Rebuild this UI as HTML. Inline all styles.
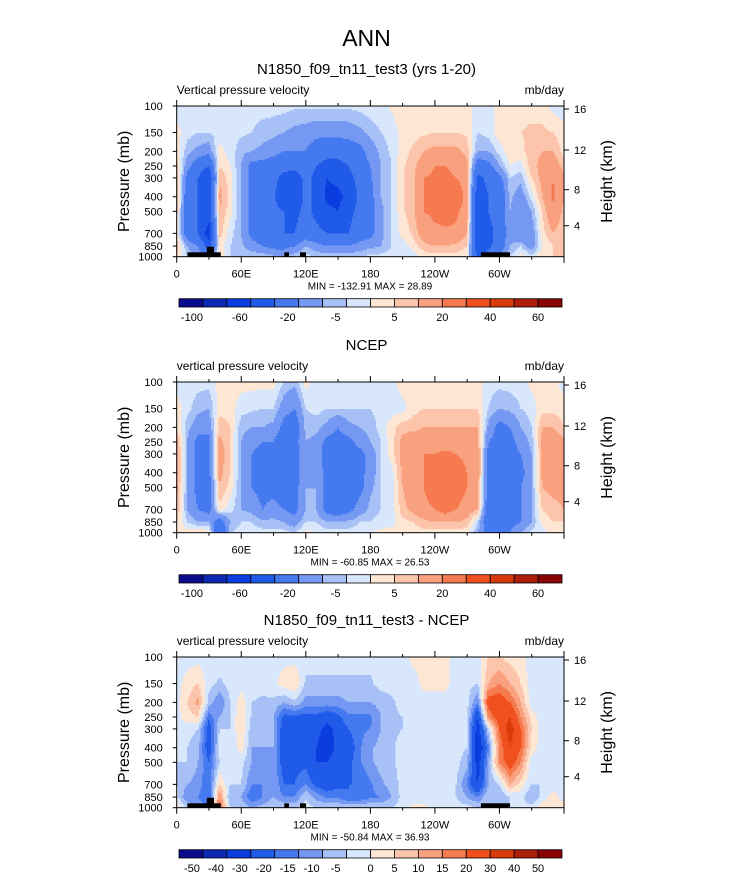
<!DOCTYPE html>
<html><head><meta charset="utf-8">
<style>
body{margin:0;background:#fff;}
svg text{font-family:"Liberation Sans",Helvetica,Arial,sans-serif;fill:#000;}
</style></head>
<body>
<svg id="chart" width="733" height="873" viewBox="0 0 733 873" xmlns="http://www.w3.org/2000/svg">
<text x="366.5" y="46" font-size="23" text-anchor="middle">ANN</text>
</svg>
<script>
// ---------- data ----------
const lons = [0,10,20,30,40,50,60,70,80,90,100,110,120,130,140,150,160,170,180,190,200,210,220,230,240,250,260,270,280,290,300,310,320,330,340,350];
const levels = [100,150,200,250,300,400,500,700,850,1000];
const lonTickLabels = ["0","60E","120E","180","120W","60W"];
const lonTickValues = [0,60,120,180,240,300];
const presTickValues = [100,150,200,250,300,400,500,700,850,1000];
const heightTickLabels = ["16","12","8","4"];
const contourLevelsAB = [-100,-80,-60,-40,-20,-10,-5,0,5,10,20,30,40,50,60];
const contourLabelsAB = ["-100","","-60","","-20","","-5","","5","","20","","40","","60"];
const contourLevelsC = [-50,-40,-30,-20,-15,-10,-5,0,5,10,15,20,30,40,50];
const contourLabelsC = ["-50","-40","-30","-20","-15","-10","-5","0","5","10","15","20","30","40","50"];
const palette = ['#0b0b8e','#0a28b0','#0a3ce0','#1f5ae8','#4479f0','#7598f2','#a7c0f6','#d8e7fb','#fee6d4','#fcc4aa','#f9a07e','#f67a50','#f0501e','#d93a0a','#ac1d0a','#880404'];

// panel 1: model (rows = lon, cols = pressure levels 100..1000)
const fieldModel = [
[-3,2,3,8,12,10,8,5,8,5],
[-3,-3,-8,-15,-25,-30,-30,-30,-10,-5],
[-2,-5,-12,-30,-40,-40,-40,-40,-20,-10],
[0,-5,-15,-40,-60,-50,-50,-70,-50,-30],
[-2,-3,2,5,10,12,10,8,3,5],
[-2,-3,-2,0,2,3,2,-3,-5,-5],
[-2,-4,-8,-10,-10,-10,-10,-10,-8,-5],
[-3,-5,-10,-25,-25,-25,-25,-25,-15,-5],
[-3,-7,-12,-25,-30,-30,-30,-30,-20,-5],
[-3,-8,-15,-30,-35,-35,-35,-35,-25,-8],
[-3,-10,-20,-35,-45,-60,-40,-40,-25,-10],
[-4,-12,-20,-35,-50,-55,-45,-40,-20,-5],
[-4,-13,-20,-30,-35,-35,-35,-30,-10,-3],
[-4,-15,-30,-40,-45,-45,-45,-35,-15,-5],
[-4,-15,-35,-45,-60,-65,-55,-40,-20,-5],
[-4,-15,-35,-45,-55,-65,-60,-40,-20,-5],
[-4,-14,-30,-40,-45,-55,-45,-40,-20,-5],
[-3,-12,-25,-30,-35,-35,-35,-30,-15,-5],
[-2,-8,-15,-20,-22,-25,-25,-25,-12,-3],
[-2,-5,-8,-10,-10,-10,-12,-12,-10,-3],
[1,-3,-4,-5,-5,-5,-5,-5,-5,-3],
[3,2,3,4,4,4,4,2,-3,-3],
[3,3,6,8,8,8,8,6,2,-3],
[3,4,10,15,20,20,20,15,8,2],
[3,5,12,20,22,23,22,18,10,3],
[3,5,12,20,22,25,25,18,10,3],
[3,5,12,18,20,30,22,18,8,3],
[3,4,8,12,15,15,15,10,5,2],
[-3,-5,-10,-30,-45,-55,-55,-55,-55,-45],
[-3,-3,-10,-25,-35,-40,-40,-45,-45,-30],
[3,3,-3,-10,-25,-35,-30,-35,-30,-20],
[3,5,3,0,-5,-8,-10,-12,-10,-5],
[3,5,3,-2,-8,-15,-20,-20,-5,3],
[3,6,8,8,5,-3,-10,-15,-15,-3],
[3,6,10,12,12,10,5,3,0,5],
[-2,5,10,15,20,22,18,10,5,5]
];
// panel 2: NCEP
const fieldObs = [
[-3,3,5,12,15,15,12,10,5,3],
[-3,-3,-8,-10,-10,-10,-10,-10,-5,3],
[-3,-8,-15,-25,-25,-25,-25,-20,-10,5],
[-3,-10,-15,-25,-25,-25,-25,-25,-10,3],
[2,3,8,12,15,12,10,3,-30,-40],
[2,3,5,5,5,5,3,-3,-10,-5],
[2,-3,-8,-10,-10,-10,-10,-10,-5,-3],
[2,-4,-10,-15,-20,-20,-20,-12,-5,-3],
[2,-5,-10,-20,-25,-25,-25,-20,-8,-3],
[2,-5,-12,-20,-25,-25,-25,-15,-8,-3],
[-5,-15,-25,-30,-40,-35,-30,-20,-10,-3],
[-8,-20,-30,-25,-30,-30,-25,-25,-15,-5],
[2,-5,-8,-10,-10,-10,-10,-10,-5,2],
[-2,-3,-8,-12,-15,-12,-10,-10,-5,0],
[-3,-5,-12,-25,-25,-25,-25,-25,-10,-3],
[-3,-5,-20,-25,-30,-30,-30,-30,-10,-3],
[-3,-5,-12,-25,-30,-30,-30,-25,-8,-3],
[-3,-5,-10,-15,-25,-25,-25,-15,-5,-3],
[-3,-5,-8,-10,-15,-15,-12,-8,-5,0],
[-3,-3,-3,-5,-5,-5,-5,-5,-3,2],
[-2,-3,3,3,3,-3,-3,-3,-2,2],
[3,-2,8,12,12,12,10,8,3,2],
[3,3,8,15,18,18,15,12,5,3],
[3,5,10,15,20,20,20,18,8,3],
[3,5,10,15,20,20,25,20,10,3],
[3,5,10,15,22,28,30,25,10,3],
[3,5,10,15,20,25,28,20,10,3],
[3,5,10,15,18,20,20,15,8,2],
[3,5,10,12,15,15,12,10,-5,-10],
[-3,-5,-12,-20,-25,-25,-25,-30,-35,-25],
[-3,-10,-25,-25,-25,-25,-25,-40,-30,-20],
[-3,-8,-20,-25,-25,-25,-25,-25,-25,-20],
[-3,-5,-10,-15,-20,-25,-20,-20,-20,-10],
[2,-3,-5,-8,-10,-10,-10,-10,-10,-3],
[3,3,10,12,12,12,10,5,2,-3],
[3,3,10,15,15,15,12,8,5,3]
];
// panel 3: difference
const fieldDiff = [
[-2,-2,-2,-2,-3,-3,-5,-5,-3,3],
[-2,2,5,3,-3,-5,-5,-10,-15,-5],
[-2,5,12,5,-5,-8,-10,-12,-15,-10],
[-2,-3,-7,-18,-25,-25,-20,-20,-20,-20],
[-2,-6,-15,-10,-5,-3,-5,5,15,20],
[-2,-3,-5,-5,-5,-5,-3,-5,-10,-5],
[-2,-2,3,5,5,3,-3,-5,-10,-5],
[-2,-3,-5,-6,-8,-10,-10,-15,-20,-10],
[-2,-3,-6,-10,-10,-10,-12,-15,-15,-8],
[-2,-2,-6,-10,-10,-10,-10,-10,-10,-5],
[-2,3,-10,-22,-25,-25,-25,-20,-15,-5],
[-2,5,-6,-22,-25,-25,-22,-20,-15,-5],
[-3,-6,-12,-22,-25,-25,-22,-15,-5,-3],
[-3,-6,-12,-22,-25,-30,-30,-22,-12,-5],
[-3,-6,-12,-25,-35,-40,-30,-25,-16,-5],
[-3,-6,-12,-22,-25,-25,-22,-22,-16,-5],
[-3,-6,-10,-16,-20,-25,-22,-20,-20,-5],
[-3,-6,-10,-16,-16,-16,-16,-20,-20,-5],
[-3,-6,-10,-16,-15,-11,-11,-16,-16,-5],
[-3,-3,-8,-10,-10,-8,-8,-11,-15,-5],
[-3,-3,-6,-6,-6,-6,-6,-8,-10,-5],
[-3,-3,-3,-5,-5,-3,-3,-3,-3,-3],
[2,-3,-3,-3,-3,-3,-3,-3,-3,2],
[2,2,-3,-3,-3,-3,-3,-5,-3,2],
[2,2,-3,-3,-3,-3,-3,-5,-3,-3],
[2,2,-3,-3,-3,-3,-3,-5,-3,-3],
[-3,-3,-3,-3,-3,-3,-3,-5,-5,-3],
[-3,-3,-3,-3,-5,-5,-8,-15,-10,-3],
[-3,-5,-15,-30,-35,-40,-35,-30,-15,-5],
[5,10,25,15,-5,-15,-10,-10,-5,-5],
[5,15,25,25,20,15,15,-5,-10,-5],
[3,10,20,30,35,30,25,10,-5,-5],
[2,5,10,15,20,20,15,3,-3,-3],
[-3,-3,-3,3,5,3,-3,-5,-10,-3],
[-3,-3,-3,-3,-3,-3,-3,-5,-3,3],
[-3,-3,-3,-3,-3,-3,-3,-3,3,5]
];
// topography blocks: [lonStart, lonEnd, topPressure]
const topoStart = [10, 28, 100, 114.6, 282.8];
const topoEnd   = [41, 34.7, 104.4, 120.2, 309.8];
const topoTop   = [935, 859, 935, 935, 935];

const panels = [
 {name:'model', title:'N1850_f09_tn11_test3 (yrs 1-20)', left:'Vertical pressure velocity', field:fieldModel, lv:contourLevelsAB, lab:contourLabelsAB, minmax:'MIN = -132.91  MAX =  28.89', top:106, topo:true},
 {name:'ncep', title:'NCEP', left:'vertical pressure velocity', field:fieldObs, lv:contourLevelsAB, lab:contourLabelsAB, minmax:'MIN = -60.85  MAX =  26.53', top:382, topo:false},
 {name:'diff', title:'N1850_f09_tn11_test3 - NCEP', left:'vertical pressure velocity', field:fieldDiff, lv:contourLevelsC, lab:contourLabelsC, minmax:'MIN = -50.84  MAX =  36.93', top:657, topo:true}
];

// ---------- drawing ----------
const NS='http://www.w3.org/2000/svg';
const svg=document.getElementById('chart');
function mk(tag,attrs,parent,txt){const e=document.createElementNS(NS,tag);for(const k in attrs)e.setAttribute(k,attrs[k]);if(txt!==undefined)e.textContent=txt;(parent||svg).appendChild(e);return e;}
const X0=176.7, W=387.3, H=150.7;
function xScale(lon){return X0+lon/360*W;}
function yScale(p,top){return top+Math.log10(p/100)*H;}
function pFromY(y,top){return 100*Math.pow(10,(y-top)/H);}
function sample(field,lon,p){
  let fi=lon/10; let i0=Math.floor(fi); let t=fi-i0; i0=((i0%36)+36)%36; const i1=(i0+1)%36;
  const lp=Math.log10(p); const ll=levels.map(v=>Math.log10(v));
  let j=0; while(j<levels.length-2 && lp>ll[j+1]) j++;
  let s=(lp-ll[j])/(ll[j+1]-ll[j]); s=Math.max(0,Math.min(1,s));
  const a=field[i0][j]*(1-s)+field[i0][j+1]*s, b=field[i1][j]*(1-s)+field[i1][j+1]*s;
  return a*(1-t)+b*t;
}
function band(v,lv){let k=0;while(k<lv.length&&v>=lv[k])k++;return k;}

panels.forEach((P,pi)=>{
  const top=P.top, bot=top+H;
  const g=mk('g',{},svg);
  
  
  const tt=mk('text',{x:366.5,y:top-32,'font-size':15,'text-anchor':'middle'},g,P.title);
  
  
  const lt=mk('text',{x:X0,y:top-12,'font-size':12},g,P.left);
  
  
  const ut=mk('text',{x:X0+W,y:top-12,'font-size':12,'text-anchor':'end'},g,'mb/day');
  
  
  const cg=mk('g',{'shape-rendering':'crispEdges'},g);
  
  
  const dx=1.5, dy=1.5;
  const nx=Math.ceil(W/dx), ny=Math.ceil(H/dy);
  for(let r=0;r<ny;r++){
    const y0=top+r*dy, hh=Math.min(dy,bot-y0);
    const p=pFromY(y0+hh/2,top);
    let start=0, cur=-1;
    for(let c=0;c<=nx;c++){
      let b=-2;
      if(c<nx){const lon=((c+0.5)*dx)/W*360; b=band(sample(P.field,lon,p),P.lv);}
      if(b!==cur){
        if(cur>=0){const xs=X0+start*dx, xe=Math.min(X0+c*dx,X0+W);
          const rc=mk('rect',{x:xs.toFixed(1),y:y0.toFixed(1),width:(xe-xs+0.4).toFixed(1),height:(hh+0.4).toFixed(1),fill:palette[cur]},cg);
          
          }
        cur=b; start=c;
      }
    }
  }
  if(P.topo){
    topoStart.forEach((s,i)=>{
      const y=yScale(topoTop[i],top);
      const tr=mk('rect',{x:xScale(s),y:y,width:xScale(topoEnd[i])-xScale(s),height:bot-y,fill:'#000'},g);
      
      
    });
  }
  const fr=mk('rect',{x:X0,y:top,width:W,height:H,fill:'none',stroke:'#000','stroke-width':1},g);
  
  
  for(let lon=0;lon<=360;lon+=30){
    const x=xScale(lon), major=lon%60===0, len=major?6:3;
    mk('line',{x1:x,y1:bot,x2:x,y2:bot+len,stroke:'#000'},g);
    mk('line',{x1:x,y1:top,x2:x,y2:top-len,stroke:'#000'},g);
  }
  lonTickValues.forEach((v,i)=>{
    const t=mk('text',{x:xScale(v),y:bot+21,'font-size':11,'text-anchor':'middle'},g,lonTickLabels[i]);
    
    
  });
  presTickValues.forEach(v=>{
    const y=yScale(v,top);
    mk('line',{x1:X0-4,y1:y,x2:X0,y2:y,stroke:'#000'},g);
    const t=mk('text',{x:X0-14,y:y+4,'font-size':11,'text-anchor':'end'},g,String(v));
    
    
  });
  const hfrac=[147.7,106.7,67,31];
  heightTickLabels.forEach((l,i)=>{
    const y=bot-hfrac[i]/150.7*H;
    mk('line',{x1:X0+W,y1:y,x2:X0+W+5,y2:y,stroke:'#000'},g);
    const t=mk('text',{x:X0+W+10,y:y+4,'font-size':11},g,l);
    
    
  });
  const ya=mk('text',{x:0,y:0,'font-size':16,'text-anchor':'middle',transform:`translate(129,${top+H/2}) rotate(-90)`},g,'Pressure (mb)');
  
  
  const yb=mk('text',{x:0,y:0,'font-size':16,'text-anchor':'middle',transform:`translate(612,${top+H/2}) rotate(-90)`},g,'Height (km)');
  
  
  const mm=mk('text',{x:370,y:bot+33,'font-size':10,'text-anchor':'middle'},g,P.minmax);
  
  
  const cb=mk('g',{},g);
  
  
  const cbx=179, cbw=383, cby=bot+42, cbh=8.3, bw=cbw/16;
  palette.forEach((c,i)=>{
    const r=mk('rect',{x:cbx+i*bw,y:cby,width:bw,height:cbh,fill:c,stroke:'#000','stroke-width':0.8},cb);
    
    
  });
  P.lab.forEach((l,i)=>{
    if(!l) return;
    const x=cbx+(i+1)*bw+(l.startsWith('-')?-11:0);
    const t=mk('text',{x:x,y:cby+cbh+14,'font-size':11,'text-anchor':'middle'},cb,l);
    
    
  });
});
</script>
</body></html>
